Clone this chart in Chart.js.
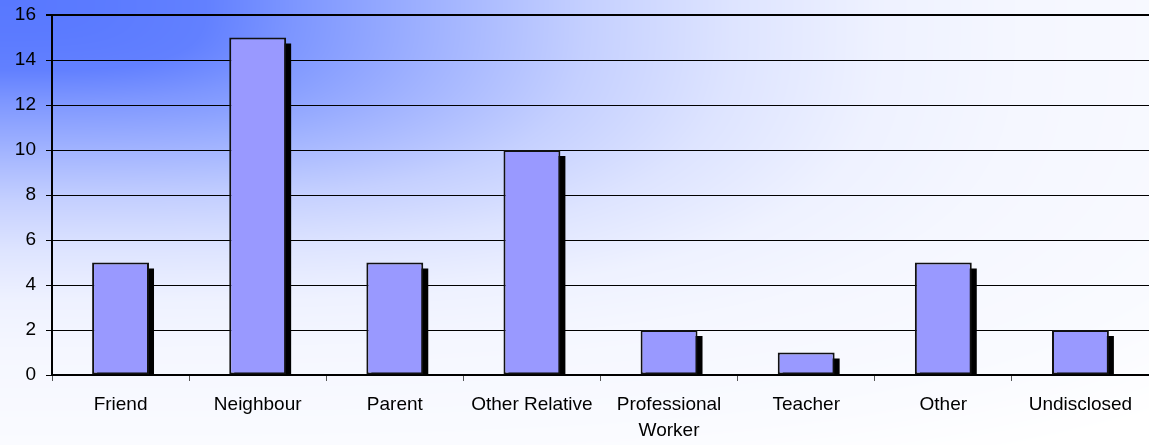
<!DOCTYPE html>
<html>
<head>
<meta charset="utf-8">
<script src="https://cdn.jsdelivr.net/npm/chart.js@4/dist/chart.umd.min.js"></script>
<style>
  html, body { margin: 0; padding: 0; background: #fff; }
  #wrap { width: 1149px; height: 445px; position: relative; }
</style>
</head>
<body>
<div id="wrap"><canvas id="c" width="1149" height="445"></canvas></div>
<script>
const categories = ["Friend", "Neighbour", "Parent", "Other Relative", ["Professional", "Worker"], "Teacher", "Other", "Undisclosed"];
const values = [5, 15, 5, 10, 2, 1, 5, 2];
const yTicks = [0, 2, 4, 6, 8, 10, 12, 14, 16];

let bgCache = null;
function buildBg(w, h) {
  const off = document.createElement('canvas');
  off.width = w; off.height = h;
  const octx = off.getContext('2d');
  const img = octx.createImageData(w, h);
  const ds = [0, 35, 70, 100, 150, 200, 250, 300, 350, 445, 500];
  const fs = [0, 0.02, 0.06, 0.22, 0.44, 0.65, 0.8, 0.9, 0.94, 0.97, 1];
  const fOf = d => {
    if (d >= ds[ds.length - 1]) return 1;
    for (let i = 1; i < ds.length; i++) {
      if (d <= ds[i]) {
        const t = (d - ds[i - 1]) / (ds[i] - ds[i - 1]);
        return fs[i - 1] + t * (fs[i] - fs[i - 1]);
      }
    }
    return 1;
  };
  const p = 3.3;
  for (let y = 0; y < h; y++) {
    for (let x = 0; x < w; x++) {
      const d = Math.pow(Math.pow(x / 2.93, p) + Math.pow(y, p), 1 / p);
      const f = fOf(d);
      const i = (y * w + x) * 4;
      img.data[i] = Math.round(88 + (255 - 88) * f);
      img.data[i + 1] = Math.round(120 + (255 - 120) * f);
      img.data[i + 2] = 255;
      img.data[i + 3] = 255;
    }
  }
  octx.putImageData(img, 0, 0);
  return off;
}

const bgPlugin = {
  id: 'bg',
  beforeDraw(chart) {
    if (!bgCache) bgCache = buildBg(chart.width, chart.height);
    chart.ctx.drawImage(bgCache, 0, 0);
  }
};

const shadowPlugin = {
  id: 'shadow',
  beforeDatasetsDraw(chart) {
    const ctx = chart.ctx;
    const area = chart.chartArea;
    ctx.save();
    ctx.beginPath();
    ctx.rect(area.left, area.top, area.right - area.left, area.bottom - area.top);
    ctx.clip();
    ctx.fillStyle = '#000';
    chart.getDatasetMeta(0).data.forEach(el => {
      const w = el.width;
      ctx.fillRect(el.x - w / 2 + 5, el.y + 6, w, el.base - el.y - 6);
    });
    ctx.restore();
  }
};

new Chart(document.getElementById('c'), {
  type: 'bar',
  data: {
    labels: categories,
    datasets: [{
      data: values,
      backgroundColor: '#9999FF',
      borderColor: '#111',
      borderWidth: 2,
      borderSkipped: false,
      categoryPercentage: 1,
      barPercentage: 0.415
    }]
  },
  options: {
    responsive: false,
    animation: false,
    devicePixelRatio: 1,
    layout: { padding: { top: 15, right: 0, left: 0, bottom: 0 } },
    plugins: { legend: { display: false }, tooltip: { enabled: false } },
    scales: {
      x: {
        offset: true,
        grid: { offset: true, drawOnChartArea: false, drawTicks: true, tickLength: 6, color: '#555', lineWidth: 1 },
        border: { display: true, color: '#000', width: 2 },
        ticks: { color: '#000', font: { family: 'Liberation Sans, Arial', size: 19, lineHeight: 1.35 }, padding: 11, maxRotation: 0, autoSkip: false },
        afterFit(s) { s.height = 70; s.paddingLeft = 0; s.paddingRight = 0; }
      },
      y: {
        min: 0, max: 16,
        afterBuildTicks(s) { s.ticks = yTicks.map(v => ({ value: v })); },
        grid: {
          color: '#000',
          lineWidth: c => (c.tick && c.tick.value === 16) ? 2 : 1,
          tickLength: 6,
          drawTicks: true
        },
        border: { display: true, color: '#000', width: 2 },
        ticks: { color: '#000', font: { family: 'Liberation Sans, Arial', size: 19 }, padding: 10 },
        afterFit(s) { s.width = 52; s.paddingTop = 0; s.paddingBottom = 0; }
      }
    }
  },
  plugins: [bgPlugin, shadowPlugin]
});
</script>
</body>
</html>
